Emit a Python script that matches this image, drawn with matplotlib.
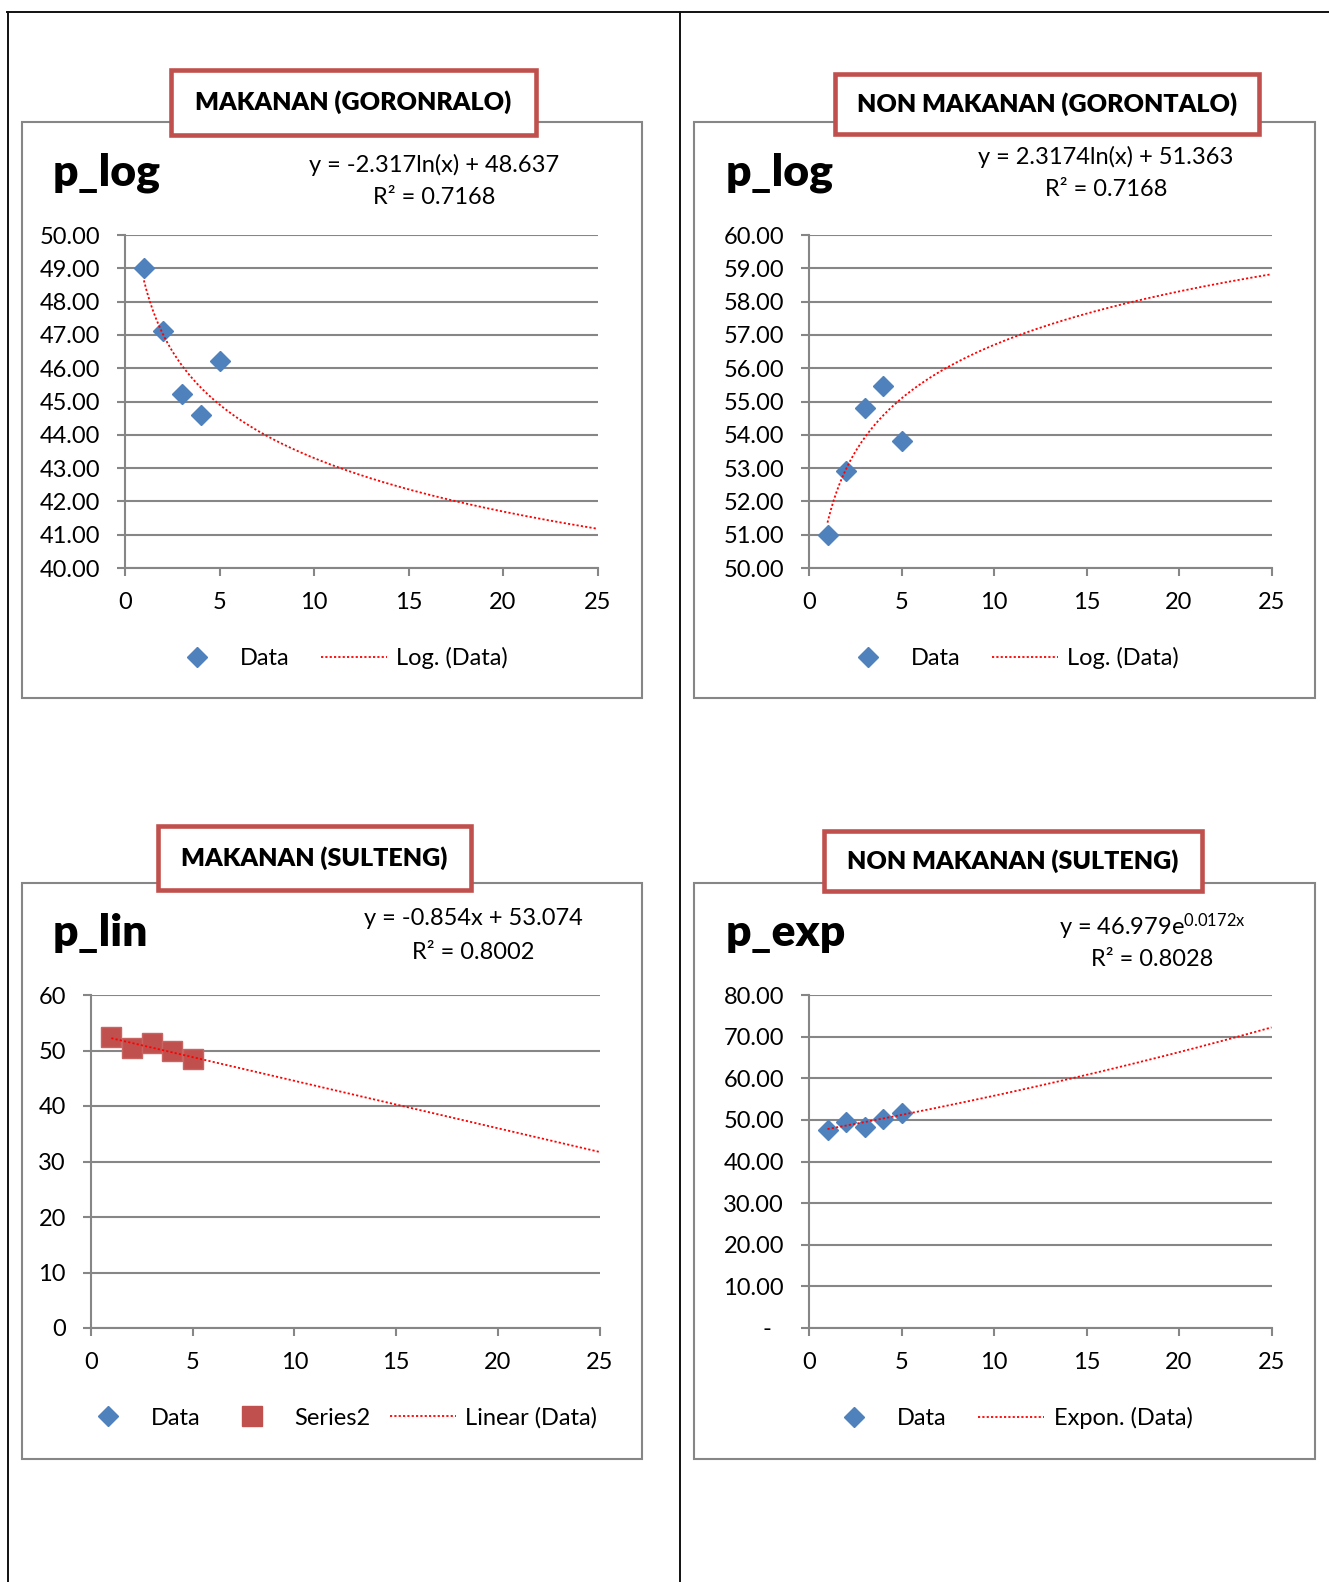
import matplotlib
matplotlib.use('Agg')
import matplotlib.pyplot as plt
import numpy as np
from matplotlib.lines import Line2D
from matplotlib.patches import Rectangle

plt.rcParams['font.family'] = ['Lato', 'DejaVu Sans']
plt.rcParams['mathtext.fontset'] = 'custom'
plt.rcParams['mathtext.rm'] = 'Lato'

W, H = 1329, 1582
GRAY = '#868686'
BLUE = '#4F81BD'
DARKRED = '#C0504D'

# data
x_data = [1, 2, 3, 4, 5]
mak_gorontalo = [49.00, 47.12, 45.23, 44.58, 46.23]
nonmak_gorontalo = [51.00, 52.92, 54.80, 55.47, 53.80]
mak_sulteng = [52.4, 50.4, 51.4, 49.9, 48.4]
mak_sulteng_s2 = [52.4, 50.4, 51.4, 49.9, 48.4]
nonmak_sulteng = [47.6, 49.4, 48.4, 50.2, 51.6]

# trendline coefficients as printed on the charts
log_gor_mak = (-2.317, 48.637)
log_gor_non = (2.3174, 51.363)
lin_sul_mak = (-0.854, 53.074)
exp_sul_non = (46.979, 0.0172)

titles = ['MAKANAN (GORONRALO)', 'NON MAKANAN (GORONTALO)',
          'MAKANAN (SULTENG)', 'NON MAKANAN (SULTENG)']

FS = 17


def fx(x):
    return x / W


def fy(y):
    return 1 - y / H


def px_axes(fig, left, right, top, bottom):
    return fig.add_axes([left / W, 1 - bottom / H, (right - left) / W, (bottom - top) / H])


def style_axes(ax, ylim, yticks, labels):
    ax.set_xlim(0, 25)
    ax.set_ylim(*ylim)
    ax.set_xticks(range(0, 26, 5))
    ax.set_yticks(yticks)
    ax.set_yticklabels(labels)
    ax.patch.set_alpha(0)
    for s in ['top', 'right']:
        ax.spines[s].set_visible(False)
    for s in ['left', 'bottom']:
        ax.spines[s].set_color(GRAY)
        ax.spines[s].set_linewidth(1.5)
    ax.grid(axis='y', color=GRAY, lw=1.5)
    ax.grid(axis='x', visible=False)
    ax.set_axisbelow(True)
    ax.tick_params(axis='both', colors=GRAY, labelcolor='black', labelsize=FS,
                   length=6, width=1.5, direction='out')
    ax.tick_params(axis='y', pad=12)
    ax.tick_params(axis='x', pad=11)


def frame(fig, left, right, top, bottom, title, tbox, ylabel, ylab_xy, eq1, eq2, eq_xy):
    fig.patches.append(Rectangle((fx(left), fy(bottom)), (right - left) / W, (bottom - top) / H,
                                 transform=fig.transFigure, fill=False, edgecolor=GRAY,
                                 lw=1.5, zorder=1))
    bl, br, bt, bb = tbox
    fig.patches.append(Rectangle((fx(bl), fy(bb)), (br - bl) / W, (bb - bt) / H,
                                 transform=fig.transFigure, facecolor='white',
                                 edgecolor=DARKRED, lw=3.3, zorder=2))
    fig.text(fx((bl + br) / 2), fy((bt + bb) / 2), title, ha='center', va='center',
             fontsize=18, fontweight='heavy', zorder=3)
    fig.text(fx(ylab_xy[0]), fy(ylab_xy[1]), ylabel, ha='left', va='center',
             fontsize=32, fontweight='heavy')
    fig.text(fx(eq_xy[0]), fy(eq_xy[1]), eq1, ha='center', va='center', fontsize=FS)
    fig.text(fx(eq_xy[0]), fy(eq_xy[2]), eq2, ha='center', va='center', fontsize=FS)


def add_legend(ax, fig, handles, labels, cx, cy, colsp=1.35):
    ax.legend(handles, labels, loc='center', bbox_to_anchor=(fx(cx), fy(cy)),
              bbox_transform=fig.transFigure, ncol=len(handles), frameon=False,
              fontsize=FS, handlelength=2.8, handletextpad=0.4, columnspacing=colsp,
              numpoints=1, borderpad=0)


fig = plt.figure(figsize=(W / 100, H / 100), dpi=100)

# page table lines
for xs, ys in [([7, W], [12, 12]), ([7.5, 7.5], [12, H]), ([680, 680], [12, H])]:
    fig.add_artist(Line2D([fx(v) for v in xs], [fy(v) for v in ys],
                          transform=fig.transFigure, color='#111111', lw=1.4))

x_trend = np.linspace(1, 25, 300)
diamond_kw = dict(ls='none', marker='D', ms=9.7, color=BLUE, mec=BLUE, clip_on=False, zorder=3)
trend_kw = dict(color='red', lw=1.3, ls=(0, (1.2, 1.2)), zorder=4, clip_on=False)
data_handle = Line2D([], [], ls='none', marker='D', ms=9.7, color=BLUE)
sq_handle = Line2D([], [], ls='none', marker='s', ms=14, color=DARKRED)
trend_handle = Line2D([], [], color='red', lw=1.3, ls=(0, (1.2, 1.2)))

# 1. MAKANAN (GORONTALO)
frame(fig, 22, 642, 122, 698, titles[0], (171, 536, 70, 135), 'p_log', (53, 173),
      'y = -2.317ln(x) + 48.637', 'R² = 0.7168', (434, 165, 197))
ax1 = px_axes(fig, 125, 597.5, 235, 568)
ticks = np.arange(40, 50.01, 1)
style_axes(ax1, (40, 50), ticks, ['%.2f' % v for v in ticks])
ax1.plot(x_data, mak_gorontalo, **diamond_kw)
ax1.plot(x_trend, log_gor_mak[0] * np.log(x_trend) + log_gor_mak[1], **trend_kw)
add_legend(ax1, fig, [data_handle, trend_handle], ['Data', 'Log. (Data)'], 336, 658)

# 2. NON MAKANAN (GORONTALO)
frame(fig, 694, 1315, 122, 698, titles[1], (835, 1259, 74, 134), 'p_log', (726, 173),
      'y = 2.3174ln(x) + 51.363', 'R² = 0.7168', (1106, 157, 189))
ax2 = px_axes(fig, 809, 1271.5, 235, 568)
ticks = np.arange(50, 60.01, 1)
style_axes(ax2, (50, 60), ticks, ['%.2f' % v for v in ticks])
ax2.plot(x_data, nonmak_gorontalo, **diamond_kw)
ax2.plot(x_trend, log_gor_non[0] * np.log(x_trend) + log_gor_non[1], **trend_kw)
add_legend(ax2, fig, [data_handle, trend_handle], ['Data', 'Log. (Data)'], 1007, 658)

# 3. MAKANAN (SULTENG)
frame(fig, 22, 642, 883, 1459, titles[2], (158, 471, 826, 890), 'p_lin', (53, 933),
      'y = -0.854x + 53.074', 'R² = 0.8002', (473, 919, 952))
ax3 = px_axes(fig, 91, 599.5, 995, 1328)
ticks = np.arange(0, 61, 10)
style_axes(ax3, (0, 60), ticks, ['%d' % v for v in ticks])
ax3.plot(x_data, mak_sulteng, **diamond_kw)
ax3.plot(x_data, mak_sulteng_s2, ls='none', marker='s', ms=14.5, color=DARKRED,
         mec='#C86461', clip_on=False, zorder=3)
ax3.plot(x_trend, lin_sul_mak[0] * x_trend + lin_sul_mak[1], **trend_kw)
add_legend(ax3, fig, [data_handle, sq_handle, trend_handle],
           ['Data', 'Series2', 'Linear (Data)'], 336, 1418, colsp=0.8)

# 4. NON MAKANAN (SULTENG)
frame(fig, 694, 1315, 883, 1459, titles[3], (824, 1202, 831, 891), 'p_exp', (726, 933),
      r'y = 46.979e$\mathregular{^{0.0172x}}$', 'R² = 0.8028', (1152, 927, 959))
ax4 = px_axes(fig, 809, 1271.5, 995, 1328)
ticks = np.arange(0, 81, 10)
style_axes(ax4, (0, 80), ticks, ['-  '] + ['%.2f' % v for v in ticks[1:]])
ax4.plot(x_data, nonmak_sulteng, **diamond_kw)
ax4.plot(x_trend, exp_sul_non[0] * np.exp(exp_sul_non[1] * x_trend), **trend_kw)
add_legend(ax4, fig, [data_handle, trend_handle], ['Data', 'Expon. (Data)'], 1007, 1418)

fig.savefig('out.png', dpi=100)
